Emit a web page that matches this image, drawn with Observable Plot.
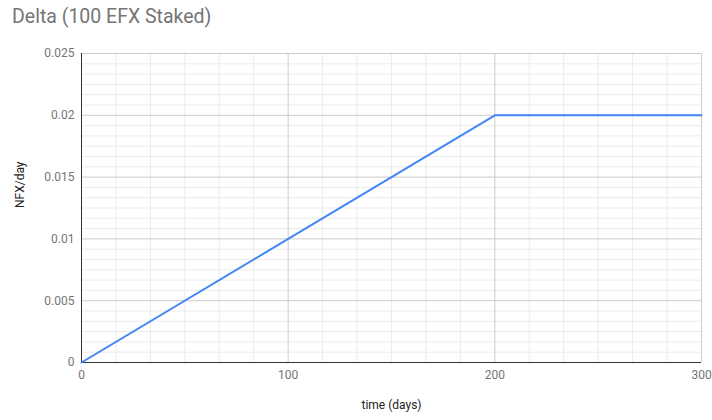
<!DOCTYPE html>
<html>
<head>
<meta charset="utf-8">
<script src="https://cdn.jsdelivr.net/npm/d3@7"></script>
<script src="https://cdn.jsdelivr.net/npm/@observablehq/plot@0.6"></script>
<style>
  body { margin: 0; background: #fff; font-family: Roboto, sans-serif; }
  #wrap { position: relative; width: 712px; height: 420px; }
  #title { position: absolute; left: 12px; top: 5px; font-size: 19.5px; color: #757575; font-family: Roboto, sans-serif; }
</style>
</head>
<body>
<div id="wrap"><div id="title">Delta (100 EFX Staked)</div></div>
<script>
const days = [0, 200, 300];
const nfxPerDay = [0, 0.02, 0.02];
const xTicks = [0, 100, 200, 300];
const yTicks = [0, 0.005, 0.01, 0.015, 0.02, 0.025];
const xMinor = d3.range(0, 301, 100 / 6).filter(v => Math.abs(v / 100 - Math.round(v / 100)) > 1e-6);
const yMinor = d3.range(0, 0.02501, 0.005 / 6).filter(v => Math.abs(v / 0.005 - Math.round(v / 0.005)) > 1e-6);

const data = days.map((d, i) => ({ day: d, value: nfxPerDay[i] }));

const chart = Plot.plot({
  width: 712,
  height: 420,
  marginTop: 53,
  marginBottom: 58,
  marginLeft: 81,
  marginRight: 11,
  style: { fontFamily: "Roboto, sans-serif", fontSize: "12px", color: "#757575", background: "#fff" },
  x: { domain: [0, 300], ticks: xTicks, tickSize: 0, tickPadding: 8, label: null, tickFormat: d => String(d) },
  y: { domain: [0, 0.025], ticks: yTicks, tickSize: 0, tickPadding: 7, label: null, tickFormat: d => String(+d.toFixed(3)) },
  marks: [
    Plot.ruleX(xMinor, { stroke: "#ebebeb", strokeWidth: 1 }),
    Plot.ruleY(yMinor, { stroke: "#ebebeb", strokeWidth: 1 }),
    Plot.ruleX(xTicks, { stroke: "#cccccc", strokeWidth: 1 }),
    Plot.ruleY(yTicks, { stroke: "#cccccc", strokeWidth: 1 }),
    Plot.ruleX([0], { stroke: "#333333", strokeWidth: 1 }),
    Plot.ruleY([0], { stroke: "#333333", strokeWidth: 1 }),
    Plot.line(data, { x: "day", y: "value", stroke: "#4285f4", strokeWidth: 2 }),
    Plot.text(["NFX/day"], { frameAnchor: "left", dx: -61, rotate: -90, fill: "#222", fontSize: 12 }),
    Plot.text(["time (days)"], { frameAnchor: "bottom", dy: 46, fill: "#222", fontSize: 12 })
  ]
});
document.getElementById("wrap").appendChild(chart);
</script>
</body>
</html>
